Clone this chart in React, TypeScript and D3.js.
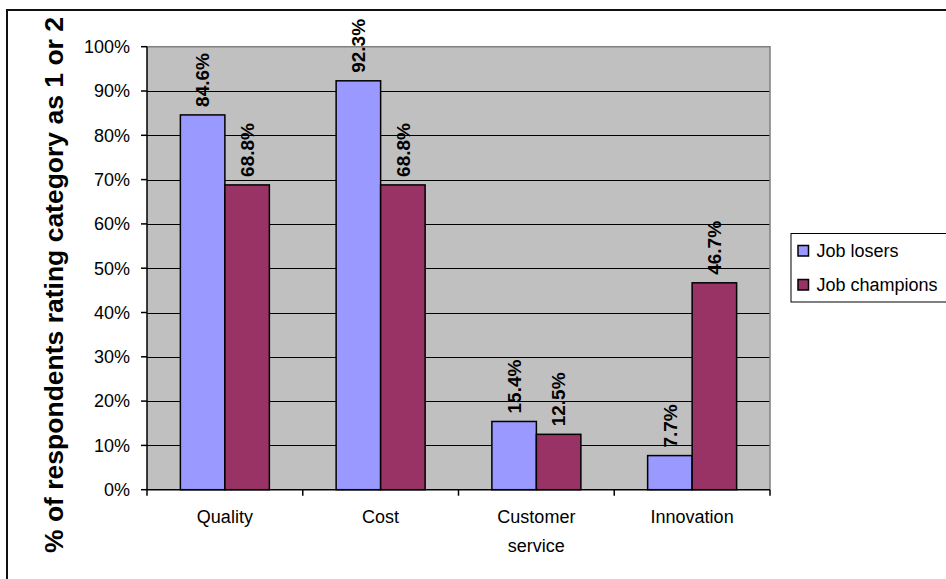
import React from "react";
import * as d3 from "d3";

// Survey results: share of respondents rating each category as 1 or 2
const categories: string[][] = [["Quality"], ["Cost"], ["Customer", "service"], ["Innovation"]];
const seriesNames = ["Job losers", "Job champions"];
const jobLosers = [84.6, 92.3, 15.4, 7.7];
const jobChampions = [68.8, 68.8, 12.5, 46.7];
const yTicks = [0, 10, 20, 30, 40, 50, 60, 70, 80, 90, 100];
const seriesColors = ["#9999FF", "#993366"];

const W = 946;
const H = 579;
const FONT = "'Liberation Sans', Arial, Helvetica, sans-serif";

const plot = { left: 147, right: 770, top: 46.7, bottom: 489.7 };

export default function App() {
  const catKeys = categories.map((c) => c.join(" "));
  const x0 = d3.scaleBand<string>().domain(catKeys).range([plot.left, plot.right]).padding(0);
  const bw = x0.bandwidth();
  const barW = bw / 3.5; // 150% gap width between groups
  const x1 = d3
    .scaleBand<string>()
    .domain(seriesNames)
    .range([barW * 0.75, bw - barW * 0.75])
    .padding(0);
  const y = d3.scaleLinear().domain([0, 100]).range([plot.bottom, plot.top]);

  const series = [jobLosers, jobChampions];
  const boundaries = d3.range(catKeys.length + 1).map((i) => plot.left + i * bw);

  return (
    <svg
      width={W}
      height={H}
      style={{ position: "absolute", left: 0, top: 0, background: "#fff" }}
      fontFamily={FONT}
    >
      {/* chart area frame */}
      <rect x={7} y={10} width={1000} height={700} fill="#fff" stroke="#111" strokeWidth={2} />

      {/* plot background */}
      <rect
        x={plot.left}
        y={plot.top}
        width={plot.right - plot.left}
        height={plot.bottom - plot.top}
        fill="#C0C0C0"
      />
      {/* gridlines */}
      {yTicks
        .filter((t) => t > 0 && t < 100)
        .map((t) => (
          <line
            key={t}
            x1={plot.left}
            x2={plot.right}
            y1={Math.round(y(t)) + 0.5}
            y2={Math.round(y(t)) + 0.5}
            stroke="#000"
            strokeWidth={1}
          />
        ))}
      {/* plot border (top/right) */}
      <path
        d={`M${plot.left},${plot.top}H${plot.right}V${plot.bottom}`}
        fill="none"
        stroke="#808080"
        strokeWidth={1.5}
      />

      {/* bars */}
      {series.map((vals, si) =>
        vals.map((v, ci) => {
          const bx = (x0(catKeys[ci]) as number) + (x1(seriesNames[si]) as number);
          const by = y(v);
          return (
            <g key={`${si}-${ci}`}>
              <rect
                x={bx}
                y={by}
                width={x1.bandwidth()}
                height={plot.bottom - by}
                fill={seriesColors[si]}
                stroke="#000"
                strokeWidth={1.5}
              />
              <text
                transform={`translate(${bx + x1.bandwidth() / 2},${by - 8}) rotate(-90)`}
                dy="0.36em"
                fontSize={19}
                fontWeight="bold"
                fill="#000"
              >
                {`${v.toFixed(1)}%`}
              </text>
            </g>
          );
        })
      )}

      {/* y axis */}
      <line x1={plot.left} x2={plot.left} y1={plot.top} y2={plot.bottom} stroke="#000" strokeWidth={1.5} />
      {yTicks.map((t) => (
        <g key={t}>
          <line x1={plot.left - 6} x2={plot.left} y1={y(t)} y2={y(t)} stroke="#000" strokeWidth={1.5} />
          <text x={130} y={y(t)} dy="0.35em" textAnchor="end" fontSize={18} fill="#000">
            {`${t}%`}
          </text>
        </g>
      ))}

      {/* x axis */}
      <line x1={plot.left} x2={plot.right} y1={plot.bottom} y2={plot.bottom} stroke="#000" strokeWidth={1.5} />
      {boundaries.map((bx, i) => (
        <line key={i} x1={bx} x2={bx} y1={plot.bottom} y2={plot.bottom + 6} stroke="#000" strokeWidth={1.5} />
      ))}
      {categories.map((lines, ci) => (
        <text
          key={ci}
          x={(x0(catKeys[ci]) as number) + bw / 2}
          y={523}
          textAnchor="middle"
          fontSize={18}
          fill="#000"
        >
          {lines.map((ln, li) => (
            <tspan key={li} x={(x0(catKeys[ci]) as number) + bw / 2} dy={li === 0 ? 0 : 28.5}>
              {ln}
            </tspan>
          ))}
        </text>
      ))}

      {/* y axis title */}
      <text
        transform={`translate(63,285) rotate(-90)`}
        textAnchor="middle"
        fontSize={26.5}
        fontWeight="bold"
        fill="#000"
      >
        % of respondents rating category as 1 or 2
      </text>

      {/* legend */}
      <rect x={791} y={233.5} width={200} height={68.5} fill="#fff" stroke="#000" strokeWidth={1} />
      {seriesNames.map((name, i) => (
        <g key={name}>
          <rect
            x={798}
            y={245.5 + i * 34}
            width={10.5}
            height={10.5}
            fill={seriesColors[i]}
            stroke="#000"
            strokeWidth={1.5}
          />
          <text x={816.5} y={257 + i * 34} fontSize={18} fill="#000">
            {name}
          </text>
        </g>
      ))}
    </svg>
  );
}
